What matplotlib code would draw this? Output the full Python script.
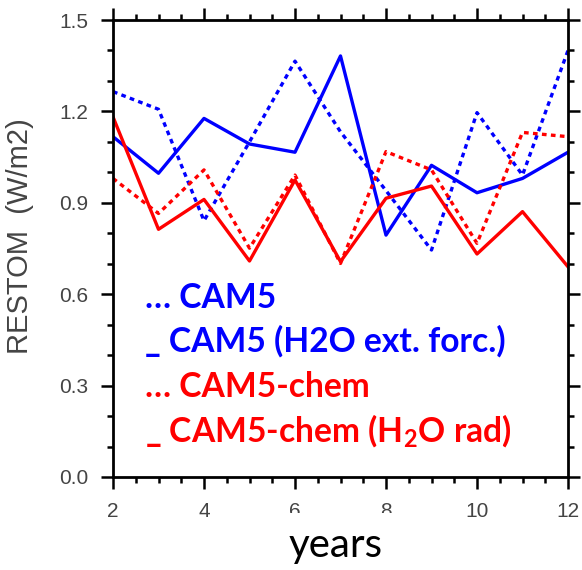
import numpy as np
import matplotlib
matplotlib.use('Agg')
import matplotlib.pyplot as plt
from matplotlib.patches import Rectangle
from matplotlib.ticker import MultipleLocator

outfile = 'out.png'

# RESTOM per simulation year
years = [2, 3, 4, 5, 6, 7, 8, 9, 10, 11, 12]
cam5 = [1.265, 1.207, 0.841, 1.10, 1.365, 1.133, 0.94, 0.745, 1.196, 0.991, 1.40]
cam5_h2o_ext = [1.117, 0.997, 1.177, 1.093, 1.066, 1.382, 0.794, 1.023, 0.933, 0.980, 1.066]
cam5_chem = [0.980, 0.865, 1.008, 0.751, 0.991, 0.701, 1.068, 1.008, 0.767, 1.131, 1.117]
cam5_chem_h2o_rad = [1.182, 0.813, 0.911, 0.709, 0.975, 0.707, 0.915, 0.955, 0.732, 0.871, 0.690]

legend_lines = ['\u2026 CAM5',
                '_ CAM5 (H2O ext. forc.)',
                '\u2026 CAM5-chem',
                '_ CAM5-chem (H$_2$O rad)']
legend_colors = ['#0000ff', '#0000ff', '#ff0000', '#ff0000']

plt.rcParams['mathtext.fontset'] = 'custom'
plt.rcParams['mathtext.rm'] = 'Lato:bold'
plt.rcParams['mathtext.default'] = 'rm'

W, H = 582, 570
fig = plt.figure(figsize=(W / 100, H / 100), dpi=100, facecolor='w')

# axes box in pixels: left 113, right 568, top 20, bottom 477
ax = fig.add_axes([113 / W, (H - 477) / H, (568 - 113) / W, (477 - 20) / H])

dot = (0, (1.4, 1.3))
ax.plot(years, cam5, color='#0000ff', lw=2.4, linestyle=dot)
ax.plot(years, cam5_h2o_ext, color='#0000ff', lw=2.4)
ax.plot(years, cam5_chem, color='#ff0000', lw=2.4, linestyle=dot)
ax.plot(years, cam5_chem_h2o_rad, color='#ff0000', lw=2.4)

ax.set_xlim(2, 12)
ax.set_ylim(0, 1.5)
ax.xaxis.set_major_locator(MultipleLocator(2))
ax.xaxis.set_minor_locator(MultipleLocator(0.5))
ax.yaxis.set_major_locator(MultipleLocator(0.3))
ax.yaxis.set_minor_locator(MultipleLocator(0.1))
ax.yaxis.set_major_formatter(plt.FormatStrFormatter('%.1f'))

for s in ax.spines.values():
    s.set_linewidth(2.0)
ax.tick_params(which='both', direction='out', top=True, right=True,
               width=1.8, color='k')
ax.tick_params(which='major', length=8.6)
ax.tick_params(which='minor', length=4.3)
ax.tick_params(axis='x', which='major', pad=9.5)
ax.tick_params(axis='y', which='major', pad=9)
for lab in ax.get_xticklabels() + ax.get_yticklabels():
    lab.set_family('Liberation Sans')
    lab.set_fontsize(15)
    lab.set_color('#444444')

ax.set_ylabel('RESTOM  (W/m2)', family='Liberation Sans', fontsize=21,
              color='#444444', va='baseline')
ax.yaxis.set_label_coords((28 - 113) / 455, (477 - 236) / 457)

# white label box over the lower tick label strip
fig.patches.append(Rectangle((255 / W, 0), (420 - 255) / W, (H - 513) / H,
                             transform=fig.transFigure, facecolor='white',
                             edgecolor='none', zorder=2))
fig.text(336 / W, (H - 557) / H, 'years', family='Lato', fontsize=29,
         ha='center', va='baseline', color='k', zorder=3)

baselines = [308, 352, 397, 442]
for txt, c, yb in zip(legend_lines, legend_colors, baselines):
    fig.text(145 / W, (H - yb) / H, txt, family='Lato', weight='bold',
             fontsize=24.2, color=c, ha='left', va='baseline', zorder=3)

plt.savefig(outfile, dpi=100)
